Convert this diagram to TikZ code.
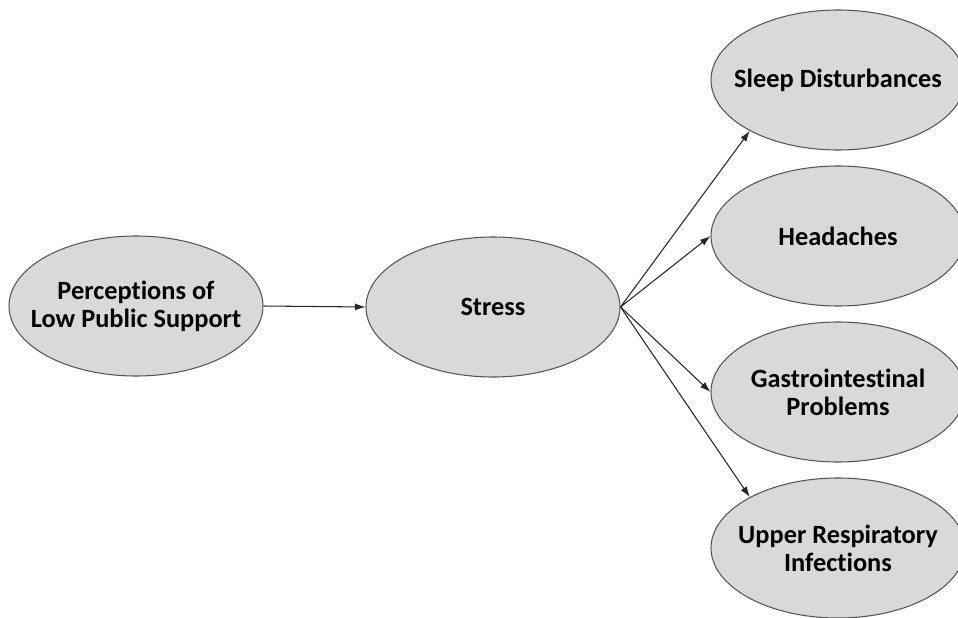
\documentclass[tikz,border=0pt]{standalone}
\usepackage{fontspec}
\setmainfont{Carlito}[Ligatures=NoCommon]
\usetikzlibrary{shapes.geometric, arrows.meta}

\definecolor{ellfill}{RGB}{217,217,217}
\definecolor{elldraw}{RGB}{85,85,85}

\begin{document}
\begin{tikzpicture}[
    factor/.style={ellipse, draw=elldraw, fill=ellfill, line width=0.6pt,
        minimum width=5.08cm, minimum height=2.8cm, inner xsep=-0.4cm, inner ysep=0pt,
        align=center, font=\fontsize{15}{16}\selectfont\bfseries},
    link/.style={-{Latex[length=6pt, width=4pt]}, line width=0.6pt, black!85}
]

     \useasboundingbox (0,0) rectangle (19.16,12.34);

     % cause
     \node[factor] (support) at (2.72,6.22) {Perceptions of\\Low Public Support};
     \node[factor] (stress) at (9.86,6.20) {Stress};

     % outcomes
     \node[factor] (sleep) at (16.76,10.74) {Sleep Disturbances};
     \node[factor] (head) at (16.76,7.62) {Headaches};
     \node[factor] (gastro) at (16.76,4.50) {Gastrointestinal\\Problems};
     \node[factor] (resp) at (16.76,1.38) {Upper Respiratory\\Infections};

     % paths
     \draw[link] (support.east) -- (stress.west);
     \draw[link] (stress.east) -- (sleep.210);
     \draw[link] (stress.east) -- (head.west);
     \draw[link] (stress.east) -- (gastro.west);
     \draw[link] (stress.east) -- (resp.150);

\end{tikzpicture}
\end{document}
